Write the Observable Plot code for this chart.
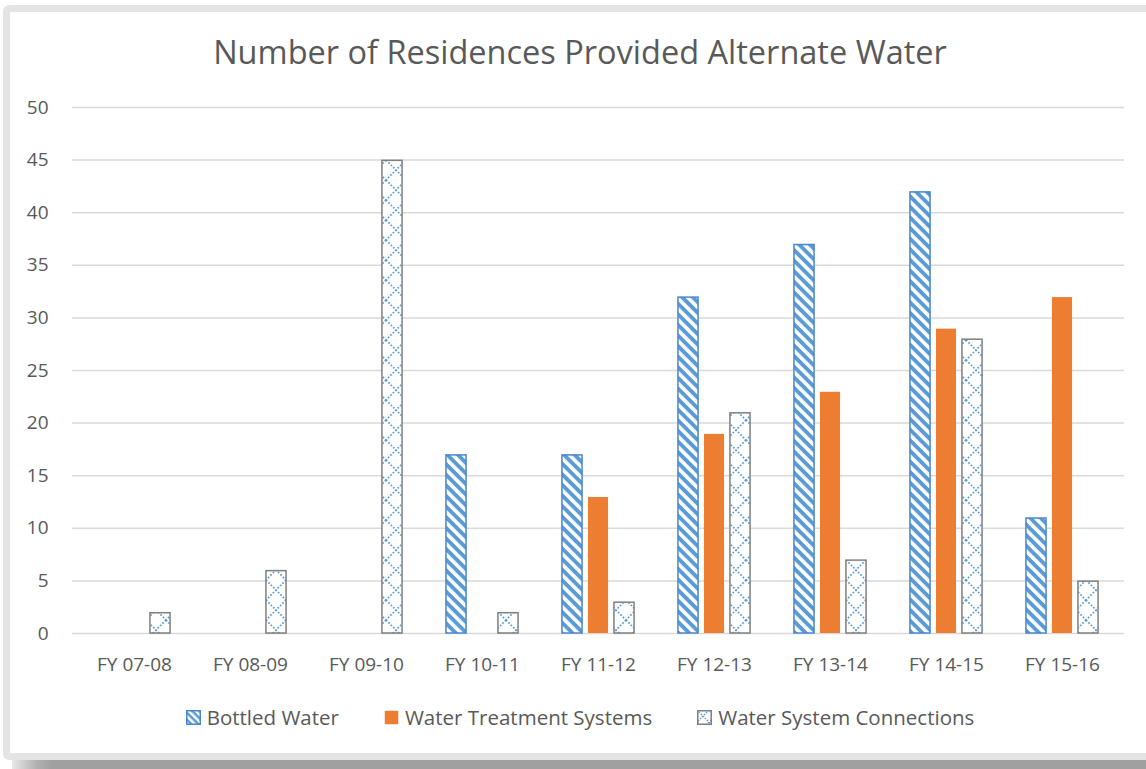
<!DOCTYPE html>
<html>
<head>
<meta charset="utf-8">
<script src="https://cdn.jsdelivr.net/npm/d3@7"></script>
<script src="https://cdn.jsdelivr.net/npm/@observablehq/plot@0.6"></script>
<style>
  html, body { margin: 0; padding: 0; background: #fff; overflow: hidden; }
  #root { width: 1146px; height: 769px; position: relative; overflow: hidden; font-family: "Open Sans", "Noto Sans", sans-serif; }
  #shadow { position: absolute; left: 12px; top: 759px; width: 1160px; height: 10px; background: linear-gradient(to right, #e8e8e8 0px, #b0b0b0 25px, #a0a0a0 40px); }
  #frame { position: absolute; left: 3px; top: 5px; width: 1180px; height: 755px; box-sizing: border-box; border: 7px solid #e4e4e4; border-radius: 6px; background: #fff; }
  #title { position: absolute; left: 0; width: 1160px; top: 29px; text-align: center; font-size: 32.5px; color: #595959; }
  #chart { position: absolute; left: 0; top: 0; }
  #legend { position: absolute; top: 703px; left: 0; width: 1160px; display: flex; justify-content: center; gap: 45px; font-size: 20.5px; color: #595959; }
  #legend .item { display: flex; align-items: center; }
  #legend svg { margin-right: 6px; }
</style>
</head>
<body>
<div id="root">
<div id="shadow"></div>
<div id="frame"></div>
<div id="title">Number of Residences Provided Alternate Water</div>
<div id="chart"></div>
<div id="legend"></div>
</div>
<script>
const years = ["FY 07-08","FY 08-09","FY 09-10","FY 10-11","FY 11-12","FY 12-13","FY 13-14","FY 14-15","FY 15-16"];
const seriesNames = ["Bottled Water","Water Treatment Systems","Water System Connections"];
const bottled = [0,0,0,17,17,32,37,42,11];
const treatment = [0,0,0,0,13,19,23,29,32];
const connections = [2,6,45,2,3,21,7,28,5];
const yTicks = [0,5,10,15,20,25,30,35,40,45,50];

const fills = {"Bottled Water": "url(#stripes)", "Water Treatment Systems": "#ED7D31", "Water System Connections": "url(#diamonds)"};
const strokes = {"Bottled Water": "#4a86d0", "Water Treatment Systems": "none", "Water System Connections": "#7f7f7f"};
const offsets = {"Bottled Water": -26, "Water Treatment Systems": 0, "Water System Connections": 26};

const seriesValues = [bottled, treatment, connections];
const tables = seriesNames.map((s, j) =>
  years.map((yr, i) => ({year: yr, series: s, value: seriesValues[j][i]})).filter(d => d.value > 0)
);

const W = 1146, ML = 72, MR = 22;
const step = (W - ML - MR) / years.length;
const barW = 21;
const inset = (step - barW) / 2;

const chart = Plot.plot({
  width: W,
  height: 690,
  marginLeft: ML,
  marginRight: MR,
  marginTop: 107,
  marginBottom: 57,
  style: {fontFamily: "'Open Sans', 'Noto Sans', sans-serif", fontSize: "19px", color: "#595959", background: "transparent"},
  x: {domain: years, padding: 0, label: null, tickSize: 0, tickPadding: 24},
  y: {domain: [0, 50], ticks: yTicks, label: null, tickSize: 0, tickPadding: 24},
  marks: [
    Plot.gridY(yTicks, {stroke: "#d9d9d9", strokeOpacity: 1, strokeWidth: 1.5}),
    ...seriesNames.map((s, j) => Plot.barY(tables[j], {
      x: "year", y: "value",
      dx: offsets[s],
      insetLeft: inset, insetRight: inset,
      insetTop: 0.75,
      fill: fills[s],
      stroke: strokes[s],
      strokeWidth: 1.5
    }))
  ]
});

// pattern definitions
const ns = "http://www.w3.org/2000/svg";
const defs = document.createElementNS(ns, "defs");
defs.innerHTML = `
  <pattern id="stripes" patternUnits="userSpaceOnUse" width="7.5" height="7.5" patternTransform="rotate(45)">
    <rect width="7.5" height="7.5" fill="#fff"/>
    <rect width="7.5" height="3.9" fill="#5B9BD5"/>
  </pattern>
  <pattern id="diamonds" patternUnits="userSpaceOnUse" width="20" height="20">
    <rect width="20" height="20" fill="#fff"/>
    <path d="M0,0 L20,20 M20,0 L0,20" stroke="#5B9BD5" stroke-width="1.7" stroke-dasharray="1.7,1.7" fill="none"/>
  </pattern>
  <pattern id="stripesL" patternUnits="userSpaceOnUse" width="5" height="5" patternTransform="rotate(45)">
    <rect width="5" height="5" fill="#fff"/>
    <rect width="5" height="2.5" fill="#5B9BD5"/>
  </pattern>
  <pattern id="diamondsL" patternUnits="userSpaceOnUse" width="12" height="12">
    <rect width="12" height="12" fill="#fff"/>
    <path d="M0,0 L12,12 M12,0 L0,12" stroke="#5B9BD5" stroke-width="1.4" stroke-dasharray="1.4,1.4" fill="none"/>
  </pattern>`;
chart.insertBefore(defs, chart.firstChild);
document.getElementById("chart").appendChild(chart);

// legend
const legend = document.getElementById("legend");
const legFill = {"Bottled Water": "url(#stripesL)", "Water Treatment Systems": "#ED7D31", "Water System Connections": "url(#diamondsL)"};
seriesNames.forEach(s => {
  const item = document.createElement("div");
  item.className = "item";
  const sw = d3.create("svg").attr("width", 15).attr("height", 15);
  sw.append("rect").attr("x", 0.75).attr("y", 0.75).attr("width", 13.5).attr("height", 13.5)
    .attr("fill", legFill[s]).attr("stroke", strokes[s] === "none" ? "none" : strokes[s]).attr("stroke-width", 1.5);
  item.appendChild(sw.node());
  const t = document.createElement("span");
  t.textContent = s;
  item.appendChild(t);
  legend.appendChild(item);
});
</script>
</body>
</html>
